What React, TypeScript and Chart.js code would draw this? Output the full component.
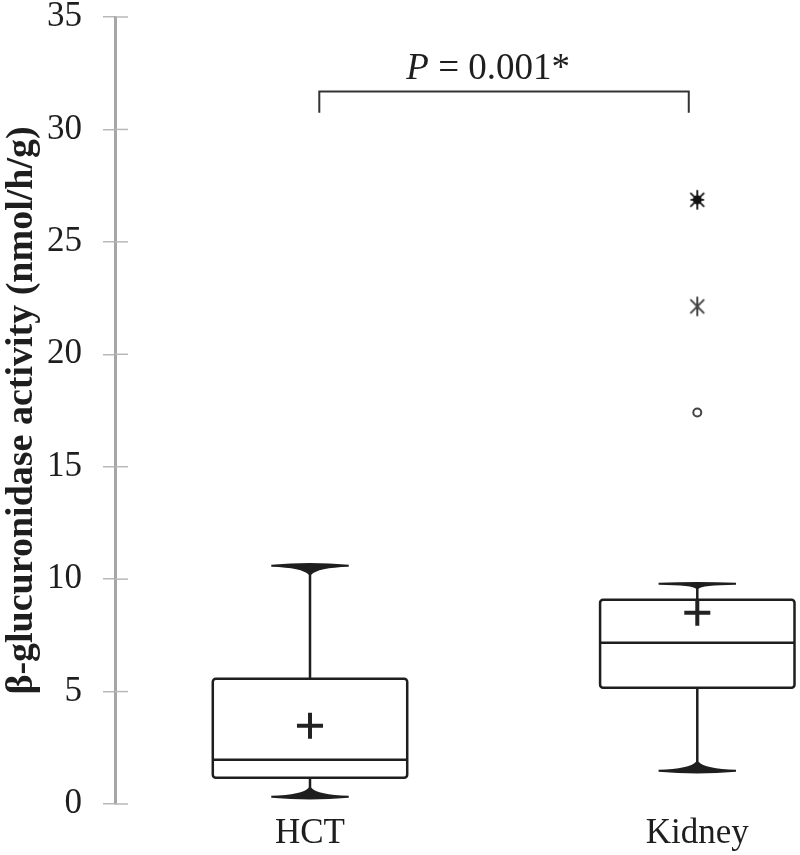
import React, { useEffect, useRef } from 'react';
import { Chart, registerables } from 'chart.js';

Chart.register(...registerables);

// ---------- data ----------
const categories = ['HCT', 'Kidney'];
const categoryPositions = [1, 2];
const whiskerLow = [0.32, 1.48];
const quartile1 = [1.17, 5.17];
const medians = [1.97, 7.17];
const quartile3 = [5.57, 9.08];
const whiskerHigh = [10.6, 9.8];
const means = [3.48, 8.5];
const outlierValues = [17.41]; // Kidney, open circle
const extremeValues = [22.13, 26.87]; // Kidney, asterisks
const yTickValues = [0, 5, 10, 15, 20, 25, 30, 35];
const yTitle = 'β-glucuronidase activity (nmol/h/g)';
const pItalic = 'P';
const pRest = ' = 0.001*';
const bracketFrom = 1.024;
const bracketTo = 1.978;
const bracketLevel = 31.69;
const bracketDrop = 30.74;
const pLabelX = 1.46;
const pLabelY = 32.25;

// ---------- style ----------
const SERIF = '"Liberation Serif", "Times New Roman", serif';
const INK = '#1e1e1e';
const BOX_HALF = 0.251;
const CAP_HALF = 0.1;
// flare strength of [lower, upper] caps per category
const CAP_FLARE = [
  [1, 1],
  [1, 0.35],
];

function makeAsterisk(filled: boolean): HTMLCanvasElement {
  const c = document.createElement('canvas');
  c.width = 24;
  c.height = 24;
  const g = c.getContext('2d')!;
  g.strokeStyle = filled ? '#222' : '#444';
  g.lineWidth = 2;
  g.lineCap = 'round';
  const r = 9;
  const angles = filled ? [90, 45, 135, 0] : [90, 45, 135];
  angles.forEach((a) => {
    const rad = (a * Math.PI) / 180;
    const rr = a === 0 ? 6 : r;
    g.beginPath();
    g.moveTo(12 - rr * Math.cos(rad), 12 - rr * Math.sin(rad));
    g.lineTo(12 + rr * Math.cos(rad), 12 + rr * Math.sin(rad));
    g.stroke();
  });
  if (filled) {
    g.fillStyle = '#111';
    g.beginPath();
    g.arc(12, 12, 4.5, 0, Math.PI * 2);
    g.fill();
  }
  return c;
}

function drawCap(ctx: CanvasRenderingContext2D, cx: number, y: number, half: number, dir: number, f: number) {
  ctx.beginPath();
  ctx.moveTo(cx - half, y - dir * 1);
  ctx.quadraticCurveTo(cx, y - dir * (1 + 3.5 * f), cx + half, y - dir * 1);
  ctx.lineTo(cx + half, y + dir * 1);
  ctx.quadraticCurveTo(cx + 6 * f + 1.5, y + dir * (1 + f), cx + 1.3, y + dir * (3 + 6 * f));
  ctx.lineTo(cx - 1.3, y + dir * (3 + 6 * f));
  ctx.quadraticCurveTo(cx - 6 * f - 1.5, y + dir * (1 + f), cx - half, y + dir * 1);
  ctx.closePath();
  ctx.fill();
}

const boxPlugin = {
  id: 'boxes',
  beforeDatasetsDraw(chart: any) {
    const { ctx, scales } = chart;
    const xs = scales.x;
    const ys = scales.y;
    ctx.save();
    // inner halves of the y tick marks
    ctx.strokeStyle = '#b8b8b8';
    ctx.lineWidth = 1.5;
    yTickValues.forEach((v) => {
      const py = ys.getPixelForValue(v);
      ctx.beginPath();
      ctx.moveTo(xs.left, py);
      ctx.lineTo(xs.left + 13, py);
      ctx.stroke();
    });

    ctx.strokeStyle = INK;
    ctx.fillStyle = INK;
    ctx.lineWidth = 2.5;
    categoryPositions.forEach((pos, i) => {
      const cx = xs.getPixelForValue(pos);
      const l = xs.getPixelForValue(pos - BOX_HALF);
      const r = xs.getPixelForValue(pos + BOX_HALF);
      const capHalf = xs.getPixelForValue(pos + CAP_HALF) - cx;
      const yq1 = ys.getPixelForValue(quartile1[i]);
      const yq3 = ys.getPixelForValue(quartile3[i]);
      const ymed = ys.getPixelForValue(medians[i]);
      const ylo = ys.getPixelForValue(whiskerLow[i]);
      const yhi = ys.getPixelForValue(whiskerHigh[i]);
      // stems
      ctx.beginPath();
      ctx.moveTo(cx, yq3);
      ctx.lineTo(cx, yhi);
      ctx.moveTo(cx, yq1);
      ctx.lineTo(cx, ylo);
      ctx.stroke();
      // caps
      drawCap(ctx, cx, yhi, capHalf, 1, CAP_FLARE[i][1]);
      drawCap(ctx, cx, ylo, capHalf, -1, CAP_FLARE[i][0]);
      // box
      ctx.beginPath();
      if ((ctx as any).roundRect) {
        (ctx as any).roundRect(l, yq3, r - l, yq1 - yq3, 3);
      } else {
        ctx.rect(l, yq3, r - l, yq1 - yq3);
      }
      ctx.fillStyle = '#ffffff';
      ctx.fill();
      ctx.stroke();
      ctx.fillStyle = INK;
      // median
      ctx.beginPath();
      ctx.moveTo(l, ymed);
      ctx.lineTo(r, ymed);
      ctx.stroke();
    });

    // significance bracket
    const bx1 = xs.getPixelForValue(bracketFrom);
    const bx2 = xs.getPixelForValue(bracketTo);
    const by = ys.getPixelForValue(bracketLevel);
    const bd = ys.getPixelForValue(bracketDrop);
    ctx.strokeStyle = '#333';
    ctx.lineWidth = 2;
    ctx.beginPath();
    ctx.moveTo(bx1, bd);
    ctx.lineTo(bx1, by);
    ctx.lineTo(bx2, by);
    ctx.lineTo(bx2, bd);
    ctx.stroke();

    // P value label
    const fs = 37;
    ctx.fillStyle = INK;
    ctx.textBaseline = 'alphabetic';
    ctx.font = `italic ${fs}px ${SERIF}`;
    const w1 = ctx.measureText(pItalic).width;
    ctx.font = `${fs}px ${SERIF}`;
    const w2 = ctx.measureText(pRest).width;
    const tx = xs.getPixelForValue(pLabelX) - (w1 + w2) / 2;
    const ty = ys.getPixelForValue(pLabelY);
    ctx.font = `italic ${fs}px ${SERIF}`;
    ctx.textAlign = 'left';
    ctx.fillText(pItalic, tx, ty);
    ctx.font = `${fs}px ${SERIF}`;
    ctx.fillText(pRest, tx + w1, ty);
    ctx.restore();
  },
};

export default function App() {
  const ref = useRef<HTMLCanvasElement | null>(null);
  useEffect(() => {
    document.body.style.margin = '0';
    const canvas = ref.current;
    if (!canvas) return;
    const chart = new Chart(canvas, {
      type: 'scatter',
      data: {
        datasets: [
          {
            label: 'Mean',
            data: categoryPositions.map((p, i) => ({ x: p, y: means[i] })),
            pointStyle: 'cross',
            pointRadius: 13,
            pointBorderWidth: 4,
            borderColor: '#222',
            backgroundColor: '#222',
          },
          {
            label: 'Outliers',
            data: outlierValues.map((v) => ({ x: categoryPositions[1], y: v })),
            pointStyle: 'circle',
            pointRadius: 4,
            pointBorderWidth: 2,
            borderColor: '#444',
            backgroundColor: '#ffffff',
          },
          {
            label: 'Extremes',
            data: extremeValues.map((v) => ({ x: categoryPositions[1], y: v })),
            pointStyle: [makeAsterisk(false), makeAsterisk(true)] as any,
            pointRadius: 10,
            borderColor: '#333',
            backgroundColor: '#333',
          },
        ],
      },
      options: {
        responsive: false,
        animation: false,
        events: [],
        layout: { padding: { top: 17, right: 0, bottom: 0, left: 0 } },
        plugins: {
          legend: { display: false },
          tooltip: { enabled: false },
        },
        scales: {
          x: {
            type: 'linear',
            min: 0.4965,
            max: 2.2213,
            grid: { display: false, drawTicks: false },
            border: { display: false },
            afterBuildTicks: (scale: any) => {
              scale.ticks = categoryPositions.map((v) => ({ value: v }));
            },
            afterFit: (scale: any) => {
              scale.height = 51;
              scale.paddingLeft = 0;
              scale.paddingRight = 0;
            },
            ticks: {
              padding: 9,
              color: INK,
              font: { family: SERIF, size: 35 },
              callback: (v: any) => categories[Math.round(Number(v)) - 1] ?? '',
            },
          },
          y: {
            type: 'linear',
            min: 0,
            max: 35,
            afterBuildTicks: (scale: any) => {
              scale.ticks = yTickValues.map((v) => ({ value: v }));
            },
            afterFit: (scale: any) => {
              scale.width = 115;
              scale.paddingTop = 0;
              scale.paddingBottom = 0;
            },
            grid: {
              drawOnChartArea: false,
              drawTicks: true,
              tickLength: 12,
              color: '#b8b8b8',
              lineWidth: 1.5,
            },
            border: { display: true, color: '#a6a6a6', width: 3 },
            ticks: {
              padding: 21,
              color: INK,
              font: { family: SERIF, size: 35, lineHeight: 1 },
            },
            title: {
              display: true,
              text: yTitle,
              color: INK,
              padding: { top: 0, bottom: 0 },
              font: { family: SERIF, size: 38, weight: 'bold', lineHeight: 1.15 },
            },
          },
        },
      },
      plugins: [boxPlugin],
    });
    return () => chart.destroy();
  }, []);
  return (
    <div style={{ width: 800, height: 855 }}>
      <canvas ref={ref} width={800} height={855} />
    </div>
  );
}
